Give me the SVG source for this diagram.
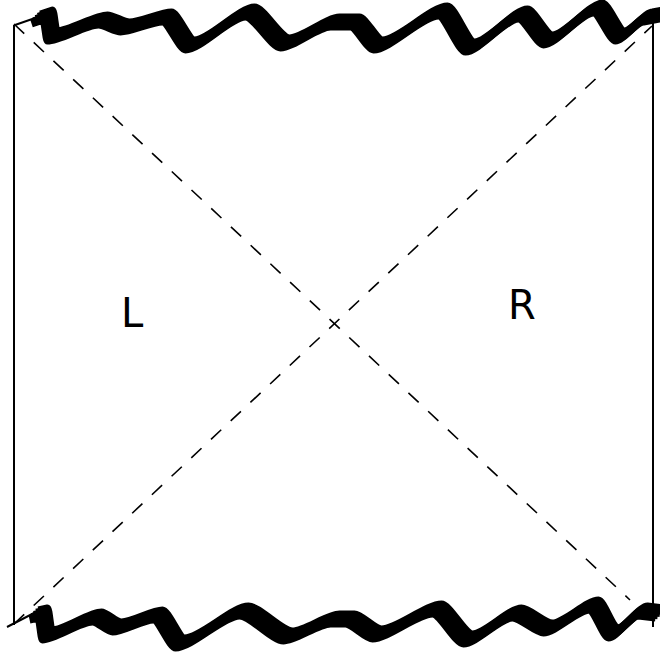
<svg xmlns="http://www.w3.org/2000/svg" width="660" height="657" viewBox="0 0 660 657">
<style>
.edge{stroke:#000;stroke-width:2;fill:none}
.dash{stroke:#000;stroke-width:1.6;fill:none;stroke-dasharray:14 13}
.wave path{stroke:#000;stroke-width:8;fill:none;stroke-linejoin:round;stroke-linecap:butt}
.thin{stroke:#000;stroke-width:2;fill:none}
.lbl{font-family:"DejaVu Sans","Liberation Sans",sans-serif;font-size:40px;fill:#000}
</style>
<rect width="660" height="657" fill="#fff"/>
<g id="connectors">
<line class="dash" x1="14" y1="24" x2="630" y2="600"/>
<line class="dash" x1="14" y1="624" x2="652" y2="26"/>
</g>
<g id="left-boundary"><line class="edge" x1="14" y1="25" x2="14" y2="625"/></g>
<g id="right-boundary"><line class="edge" x1="653" y1="22" x2="653" y2="627"/></g>
<g id="top-singularity">
<line class="thin" x1="15" y1="25" x2="38" y2="17"/>
<g class="wave">
<path transform="translate(-4.5,4.5)" d="M36,19 L48,15 C49,15 51,36 52,36 C64.75,36 90.25,20 103,20 C108.5,20 119.5,27 125,27 C135.5,27 156.5,17 167,17 C172.75,17 184.25,45 190,45 C205,45 235,12 250,12 C258.75,12 276.25,43 285,43 C297.5,43 322.5,22 335,22 L355,22 C360.75,22 372.25,45 378,45 C394.25,45 426.75,11 443,11 C449.75,11 463.25,47 470,47 C483.25,47 509.75,14 523,14 C529.25,14 541.75,40 548,40 C560.5,40 585.5,8 598,8 C603.5,8 614.5,36 620,36 C627,36 641,17 648,17 L664,14"/>
<path transform="translate(-2.25,2.25)" d="M36,19 L48,15 C49,15 51,36 52,36 C64.75,36 90.25,20 103,20 C108.5,20 119.5,27 125,27 C135.5,27 156.5,17 167,17 C172.75,17 184.25,45 190,45 C205,45 235,12 250,12 C258.75,12 276.25,43 285,43 C297.5,43 322.5,22 335,22 L355,22 C360.75,22 372.25,45 378,45 C394.25,45 426.75,11 443,11 C449.75,11 463.25,47 470,47 C483.25,47 509.75,14 523,14 C529.25,14 541.75,40 548,40 C560.5,40 585.5,8 598,8 C603.5,8 614.5,36 620,36 C627,36 641,17 648,17 L664,14"/>
<path d="M36,19 L48,15 C49,15 51,36 52,36 C64.75,36 90.25,20 103,20 C108.5,20 119.5,27 125,27 C135.5,27 156.5,17 167,17 C172.75,17 184.25,45 190,45 C205,45 235,12 250,12 C258.75,12 276.25,43 285,43 C297.5,43 322.5,22 335,22 L355,22 C360.75,22 372.25,45 378,45 C394.25,45 426.75,11 443,11 C449.75,11 463.25,47 470,47 C483.25,47 509.75,14 523,14 C529.25,14 541.75,40 548,40 C560.5,40 585.5,8 598,8 C603.5,8 614.5,36 620,36 C627,36 641,17 648,17 L664,14"/>
<path transform="translate(2.25,-2.25)" d="M36,19 L48,15 C49,15 51,36 52,36 C64.75,36 90.25,20 103,20 C108.5,20 119.5,27 125,27 C135.5,27 156.5,17 167,17 C172.75,17 184.25,45 190,45 C205,45 235,12 250,12 C258.75,12 276.25,43 285,43 C297.5,43 322.5,22 335,22 L355,22 C360.75,22 372.25,45 378,45 C394.25,45 426.75,11 443,11 C449.75,11 463.25,47 470,47 C483.25,47 509.75,14 523,14 C529.25,14 541.75,40 548,40 C560.5,40 585.5,8 598,8 C603.5,8 614.5,36 620,36 C627,36 641,17 648,17 L664,14"/>
<path transform="translate(4.5,-4.5)" d="M36,19 L48,15 C49,15 51,36 52,36 C64.75,36 90.25,20 103,20 C108.5,20 119.5,27 125,27 C135.5,27 156.5,17 167,17 C172.75,17 184.25,45 190,45 C205,45 235,12 250,12 C258.75,12 276.25,43 285,43 C297.5,43 322.5,22 335,22 L355,22 C360.75,22 372.25,45 378,45 C394.25,45 426.75,11 443,11 C449.75,11 463.25,47 470,47 C483.25,47 509.75,14 523,14 C529.25,14 541.75,40 548,40 C560.5,40 585.5,8 598,8 C603.5,8 614.5,36 620,36 C627,36 641,17 648,17 L664,14"/>
</g>
</g>
<g id="bottom-singularity">
<line class="thin" x1="7" y1="627" x2="36" y2="612"/>
<g class="wave">
<path transform="translate(-4.5,4.5)" d="M34,615 L43,613 C44,613 46,635 47,635 C59.5,635 84.5,617 97,617 C102,617 112,627 117,627 C127.25,627 147.75,615 158,615 C163.5,615 174.5,643 180,643 C196,643 228,611 244,611 C255,611 277,636 288,636 C299.75,636 323.25,619 335,619 L350,619 C356.75,619 370.25,634 377,634 C392,634 422,609 437,609 C444.75,609 460.25,639 468,639 C480.25,639 504.75,613 517,613 C524.75,613 540.25,628 548,628 C559.5,628 582.5,605 594,605 C598.75,605 608.25,633 613,633 C620.5,633 635.5,611 643,611 L660,613"/>
<path transform="translate(-2.25,2.25)" d="M34,615 L43,613 C44,613 46,635 47,635 C59.5,635 84.5,617 97,617 C102,617 112,627 117,627 C127.25,627 147.75,615 158,615 C163.5,615 174.5,643 180,643 C196,643 228,611 244,611 C255,611 277,636 288,636 C299.75,636 323.25,619 335,619 L350,619 C356.75,619 370.25,634 377,634 C392,634 422,609 437,609 C444.75,609 460.25,639 468,639 C480.25,639 504.75,613 517,613 C524.75,613 540.25,628 548,628 C559.5,628 582.5,605 594,605 C598.75,605 608.25,633 613,633 C620.5,633 635.5,611 643,611 L660,613"/>
<path d="M34,615 L43,613 C44,613 46,635 47,635 C59.5,635 84.5,617 97,617 C102,617 112,627 117,627 C127.25,627 147.75,615 158,615 C163.5,615 174.5,643 180,643 C196,643 228,611 244,611 C255,611 277,636 288,636 C299.75,636 323.25,619 335,619 L350,619 C356.75,619 370.25,634 377,634 C392,634 422,609 437,609 C444.75,609 460.25,639 468,639 C480.25,639 504.75,613 517,613 C524.75,613 540.25,628 548,628 C559.5,628 582.5,605 594,605 C598.75,605 608.25,633 613,633 C620.5,633 635.5,611 643,611 L660,613"/>
<path transform="translate(2.25,-2.25)" d="M34,615 L43,613 C44,613 46,635 47,635 C59.5,635 84.5,617 97,617 C102,617 112,627 117,627 C127.25,627 147.75,615 158,615 C163.5,615 174.5,643 180,643 C196,643 228,611 244,611 C255,611 277,636 288,636 C299.75,636 323.25,619 335,619 L350,619 C356.75,619 370.25,634 377,634 C392,634 422,609 437,609 C444.75,609 460.25,639 468,639 C480.25,639 504.75,613 517,613 C524.75,613 540.25,628 548,628 C559.5,628 582.5,605 594,605 C598.75,605 608.25,633 613,633 C620.5,633 635.5,611 643,611 L660,613"/>
<path transform="translate(4.5,-4.5)" d="M34,615 L43,613 C44,613 46,635 47,635 C59.5,635 84.5,617 97,617 C102,617 112,627 117,627 C127.25,627 147.75,615 158,615 C163.5,615 174.5,643 180,643 C196,643 228,611 244,611 C255,611 277,636 288,636 C299.75,636 323.25,619 335,619 L350,619 C356.75,619 370.25,634 377,634 C392,634 422,609 437,609 C444.75,609 460.25,639 468,639 C480.25,639 504.75,613 517,613 C524.75,613 540.25,628 548,628 C559.5,628 582.5,605 594,605 C598.75,605 608.25,633 613,633 C620.5,633 635.5,611 643,611 L660,613"/>
</g>
</g>
<g id="region-L"><text class="lbl" x="121" y="327">L</text></g>
<g id="region-R"><text class="lbl" x="508" y="319">R</text></g>
</svg>
